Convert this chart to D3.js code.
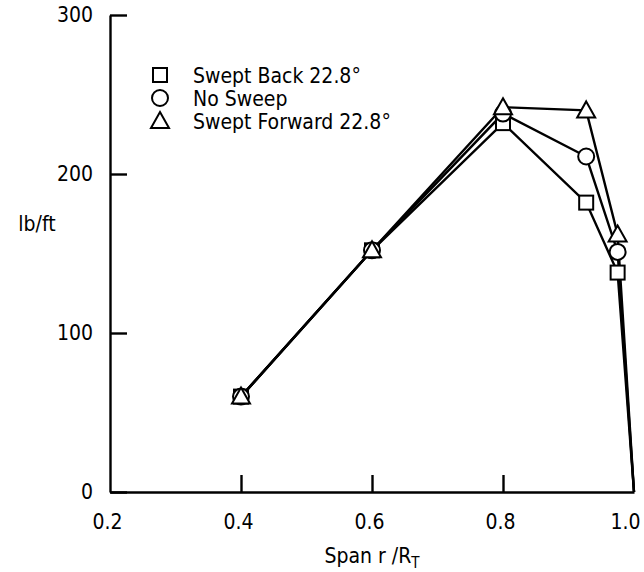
<!DOCTYPE html>
<meta charset="utf-8">
<style>
body { margin: 0; background: #fff; }
svg text { font-family: "DejaVu Sans Condensed", "DejaVu Sans", sans-serif; font-stretch: condensed; fill: #000; }
.axis path, .axis line { stroke: #000; stroke-width: 2.4; }
.axis text { font-size: 21px; }
</style>
<body>
<svg width="644" height="572"></svg>
<script src="https://d3js.org/d3.v7.min.js"></script>
<script>

// span stations (r / R_T)
var span = [0.4, 0.6, 0.8, 0.927, 0.975, 1.0];

// running load, lb/ft
var sweptBack    = [60, 152, 232, 182, 138, 0];
var noSweep      = [60, 152, 238, 211, 151, 0];
var sweptForward = [60, 152, 242, 240, 162, 0];

var xTicks = [0.2, 0.4, 0.6, 0.8, 1.0];
var yTicks = [0, 100, 200, 300];

var legendLabels = ["Swept Back 22.8\u00b0", "No Sweep", "Swept Forward 22.8\u00b0"];
var markerShapes = ["square", "circle", "triangle"];

var svg = d3.select("svg");

var x = d3.scaleLinear().domain([0.2, 1.0]).range([110, 634]);
var y = d3.scaleLinear().domain([0, 300]).range([492, 15]);

var fmt = d3.format(".1f");

var xAxis = svg.append("g")
    .attr("class", "axis")
    .attr("transform", "translate(0," + y(0) + ")")
    .call(d3.axisBottom(x).tickValues(xTicks)
      .tickSizeInner(-17).tickSizeOuter(0).tickPadding(22).tickFormat(fmt));

// no tick marks at the corner or at the tip
xAxis.selectAll(".tick line").filter(function(d) { return d === 0.2 || d === 1.0; }).remove();
xAxis.selectAll(".tick text")
    .attr("dx", function(d) { return d === 1.0 ? -9 : -3; });

svg.append("g")
    .attr("class", "axis")
    .attr("transform", "translate(" + x(0.2) + ",0)")
    .call(d3.axisLeft(y).tickValues(yTicks)
      .tickSizeInner(-17).tickSizeOuter(0).tickPadding(17));

svg.append("text")
    .attr("x", 372)
    .attr("y", 563)
    .attr("text-anchor", "middle")
    .style("font-size", "21px")
    .html('Span r /R<tspan dy="5" font-size="15">T</tspan>');

svg.append("text")
    .attr("x", 37)
    .attr("y", 231)
    .attr("text-anchor", "middle")
    .style("font-size", "21px")
    .text("lb/ft");

var series = [sweptBack, noSweep, sweptForward];

var line = d3.line()
    .x(function(d, i) { return x(span[i]); })
    .y(function(d) { return y(d); });

series.forEach(function(s) {
  svg.append("path")
      .datum(s)
      .attr("d", line)
      .attr("fill", "none")
      .attr("stroke", "#000")
      .attr("stroke-width", 2.4);
});

function marker(g, shape) {
  if (shape === "square") {
    g.append("rect").attr("x", -7).attr("y", -7).attr("width", 14).attr("height", 14);
  } else if (shape === "circle") {
    g.append("circle").attr("r", 8);
  } else {
    g.append("path").attr("d", "M0,-9L9,7L-9,7Z");
  }
  g.selectAll("*").attr("fill", "#fff").attr("stroke", "#000").attr("stroke-width", 2);
}

series.forEach(function(s, k) {
  svg.selectAll(null)
      .data(s.slice(0, -1))
    .enter().append("g")
      .attr("transform", function(d, i) { return "translate(" + x(span[i]) + "," + y(d) + ")"; })
      .each(function() { marker(d3.select(this), markerShapes[k]); });
});

// legend
var leg = svg.selectAll(".leg")
    .data(legendLabels)
  .enter().append("g")
    .attr("transform", function(d, i) { return "translate(160," + (75 + i * 23) + ")"; });

leg.each(function(d, i) { marker(d3.select(this), markerShapes[i]); });

leg.append("text")
    .attr("x", 33)
    .attr("y", 8)
    .style("font-size", "21px")
    .text(function(d) { return d; });

</script>
</body>
